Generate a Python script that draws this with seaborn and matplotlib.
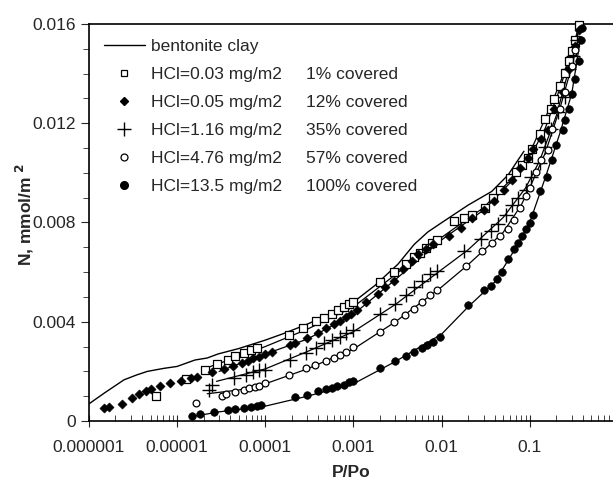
import numpy as np
import matplotlib
matplotlib.use("Agg")
import matplotlib.pyplot as plt
from matplotlib.lines import Line2D
from matplotlib.ticker import FixedLocator, NullFormatter
import seaborn as sns

# bentonite clay reference curve
clay_x = [1e-6, 1.5e-6, 2.5e-6, 3.5e-6, 4.6e-6, 7e-6, 1e-5, 1.6e-5, 2.2e-5, 2.9e-5, 5e-5, 1e-4,
          1.6e-4, 2.8e-4, 5e-4, 1e-3, 1.75e-3, 3.2e-3, 4.9e-3, 7e-3, 1e-2, 2e-2, 3.7e-2,
          5.7e-2, 7e-2, 8.6e-2]
clay_y = [0.00069, 0.00113, 0.00166, 0.00186, 0.0020, 0.00212, 0.0022, 0.00246, 0.00254, 0.0027,
          0.00292, 0.00326, 0.00352, 0.00386, 0.00425, 0.00479, 0.00546, 0.00632, 0.00712,
          0.00762, 0.00799, 0.0087, 0.00925, 0.00992, 0.0104, 0.01087]

# HCl = 0.03 mg/m2 (squares)
sq_x = [5.7e-6, 1.27e-5, 2.05e-5, 2.87e-5, 3.8e-5, 4.6e-5, 5.8e-5, 6.9e-5, 8.1e-5, 1.85e-4,
        2.7e-4, 3.8e-4, 4.6e-4, 5.7e-4, 6.7e-4, 7.8e-4, 9.0e-4, 1e-3, 2.0e-3, 2.9e-3,
        3.9e-3, 4.9e-3, 5.7e-3, 6.6e-3, 7.7e-3, 8.9e-3, 1.4e-2, 1.8e-2, 2.2e-2, 3.1e-2,
        3.8e-2, 4.6e-2, 6.0e-2, 7.0e-2, 8.1e-2, 9.5e-2, 0.107, 0.13, 0.15, 0.176,
        0.19, 0.22, 0.25, 0.28, 0.30, 0.33, 0.36]
sq_y = [0.00102, 0.0017, 0.00206, 0.00229, 0.00246, 0.00262, 0.00276, 0.00286, 0.00293, 0.00346,
        0.00373, 0.00403, 0.00417, 0.0043, 0.00446, 0.00459, 0.0047, 0.00479, 0.00559, 0.00599,
        0.00632, 0.00659, 0.00679, 0.00699, 0.00719, 0.00728, 0.00805, 0.00819, 0.00832, 0.00858,
        0.00898, 0.00932, 0.00978, 0.01005, 0.01032, 0.01058, 0.01098, 0.01158, 0.01218, 0.01258,
        0.01298, 0.01351, 0.01404, 0.01451, 0.01491, 0.01537, 0.01597]
sq_fit_x = [2e-5, 5e-5, 1e-4, 3e-4, 1e-3, 3e-3, 1e-2, 3e-2, 6e-2, 0.1, 0.15, 0.22, 0.3, 0.36]
sq_fit_y = [0.0021, 0.0026, 0.003, 0.0037, 0.0046, 0.0059, 0.0074, 0.0086, 0.0097, 0.0108,
            0.0122, 0.0136, 0.0149, 0.0159]

# HCl = 0.05 mg/m2 (diamonds)
di_x = [1.5e-6, 1.67e-6, 2.4e-6, 3.1e-6, 3.7e-6, 4.4e-6, 5.1e-6, 6.4e-6, 8.4e-6, 1.1e-5,
        1.43e-5, 1.67e-5, 2.5e-5, 3.4e-5, 4.3e-5, 5.4e-5, 6.3e-5, 7.3e-5, 8.5e-5, 1e-4,
        1.2e-4, 1.9e-4, 2.2e-4, 3.0e-4, 4.0e-4, 4.9e-4, 6.0e-4, 7.0e-4, 8.2e-4, 9.5e-4,
        1.1e-3, 1.4e-3, 1.9e-3, 2.3e-3, 2.9e-3, 3.7e-3, 4.6e-3, 5.4e-3, 6.6e-3, 8.1e-3,
        1.2e-2, 1.64e-2, 2.2e-2, 3.0e-2, 3.9e-2, 5.1e-2, 6.3e-2, 7.7e-2, 9.5e-2, 0.11,
        0.135, 0.16, 0.19, 0.24, 0.28, 0.33, 0.36]
di_y = [0.00053, 0.00055, 0.00069, 0.00093, 0.00109, 0.0012, 0.00129, 0.0014, 0.00153, 0.00162,
        0.00173, 0.00177, 0.00196, 0.00209, 0.00222, 0.00233, 0.00242, 0.00252, 0.0026, 0.0027,
        0.0028, 0.00306, 0.00313, 0.00333, 0.00353, 0.00373, 0.0039, 0.00403, 0.00419, 0.00433,
        0.00446, 0.00479, 0.00512, 0.00539, 0.00566, 0.00612, 0.00646, 0.00672, 0.00692, 0.00712,
        0.00745, 0.00779, 0.00819, 0.00852, 0.00885, 0.00932, 0.00972, 0.01018, 0.01058, 0.01098,
        0.01138, 0.01171, 0.01258, 0.01324, 0.01418, 0.01511, 0.01577]
di_fit_x = [3e-5, 1e-4, 3e-4, 1e-3, 3e-3, 1e-2, 3e-2, 6e-2, 0.1, 0.15, 0.22, 0.3, 0.37]
di_fit_y = [0.0020, 0.0027, 0.0033, 0.0043, 0.0057, 0.0073, 0.0085, 0.0096, 0.0106, 0.0118,
            0.0134, 0.0149, 0.0158]

# HCl = 1.16 mg/m2 (plus)
pl_x = [2.3e-5, 2.5e-5, 4.4e-5, 6.0e-5, 7.3e-5, 8.5e-5, 1e-4, 1.9e-4, 2.9e-4, 3.8e-4,
        4.6e-4, 5.7e-4, 7e-4, 8.2e-4, 1e-3, 2e-3, 3.0e-3, 3.9e-3, 4.9e-3, 6.0e-3,
        7.3e-3, 8.9e-3, 1.8e-2, 2.8e-2, 3.6e-2, 4.4e-2, 5.4e-2, 6.3e-2, 7.3e-2, 9e-2,
        0.104, 0.13, 0.15, 0.176, 0.21, 0.25, 0.28, 0.31, 0.34]
pl_y = [0.00126, 0.00146, 0.00173, 0.00186, 0.00196, 0.00204, 0.00206, 0.00246, 0.00273, 0.00293,
        0.00313, 0.00326, 0.00339, 0.00353, 0.00366, 0.00433, 0.00473, 0.00506, 0.00539, 0.00566,
        0.00592, 0.00606, 0.00685, 0.00732, 0.00765, 0.00792, 0.00832, 0.00872, 0.00898, 0.00932,
        0.00985, 0.01038, 0.01105, 0.01178, 0.01244, 0.01304, 0.01418, 0.01471, 0.01537]
pl_fit_x = [2.8e-5, 1e-4, 3e-4, 1e-3, 3e-3, 1e-2, 2e-2, 5e-2, 0.09, 0.13, 0.2, 0.3, 0.35]
pl_fit_y = [0.0016, 0.0021, 0.0028, 0.0036, 0.0047, 0.0061, 0.0069, 0.0082, 0.0094, 0.0105,
            0.0123, 0.0146, 0.0155]

# HCl = 4.76 mg/m2 (open circles)
oc_x = [1.63e-5, 3.2e-5, 3.6e-5, 4.6e-5, 5.7e-5, 6.6e-5, 7.7e-5, 8.5e-5, 1e-4, 1.85e-4,
        2.9e-4, 3.7e-4, 4.9e-4, 6e-4, 7e-4, 8.2e-4, 1e-3, 2e-3, 2.9e-3, 3.8e-3,
        4.9e-3, 6e-3, 7.3e-3, 8.9e-3, 1.9e-2, 2.9e-2, 3.7e-2, 4.6e-2, 5.6e-2, 6.6e-2,
        7.7e-2, 9e-2, 0.1, 0.117, 0.135, 0.16, 0.18, 0.22, 0.25, 0.3, 0.33]
oc_y = [0.00073, 0.00102, 0.00109, 0.00117, 0.00126, 0.00133, 0.00137, 0.0014, 0.00153, 0.00186,
        0.00213, 0.00226, 0.0024, 0.00253, 0.00266, 0.0028, 0.003, 0.00359, 0.00399, 0.00426,
        0.00453, 0.00479, 0.00506, 0.00528, 0.00626, 0.00685, 0.00719, 0.00745, 0.00772, 0.00812,
        0.00858, 0.00905, 0.00938, 0.01005, 0.01051, 0.01091, 0.01178, 0.01258, 0.01324, 0.0143, 0.01497]
oc_fit_x = [2.2e-5, 5e-5, 1e-4, 3e-4, 1e-3, 3e-3, 1e-2, 2e-2, 5e-2, 0.08, 0.1, 0.15, 0.22, 0.3, 0.34]
oc_fit_y = [0.0011, 0.00125, 0.0015, 0.0021, 0.0029, 0.0040, 0.0054, 0.0063, 0.0076, 0.0087,
            0.0094, 0.0108, 0.0126, 0.0143, 0.0151]

# HCl = 13.5 mg/m2 (filled circles)
fc_x = [1.46e-5, 1.84e-5, 2.6e-5, 3.8e-5, 4.6e-5, 5.7e-5, 6.9e-5, 8e-5, 9e-5, 2.2e-4,
        3.0e-4, 4e-4, 4.9e-4, 5.7e-4, 6.6e-4, 7.8e-4, 9e-4, 1e-3, 2e-3, 3e-3,
        3.9e-3, 4.9e-3, 6e-3, 6.9e-3, 8.1e-3, 9.5e-3, 2e-2, 3e-2, 3.6e-2, 4.2e-2,
        4.8e-2, 5.7e-2, 6.6e-2, 7.3e-2, 8.1e-2, 9e-2, 0.1, 0.11, 0.13, 0.155,
        0.18, 0.2, 0.24, 0.25, 0.28, 0.3, 0.33, 0.36, 0.38, 0.39]
fc_y = [0.0002, 0.00027, 0.00036, 0.00044, 0.00049, 0.00053, 0.00057, 0.00061, 0.00064, 0.00097,
        0.00106, 0.0012, 0.00129, 0.00133, 0.0014, 0.00146, 0.00156, 0.0016, 0.00213, 0.0024,
        0.00262, 0.0028, 0.00293, 0.00306, 0.00319, 0.00339, 0.00466, 0.00526, 0.00546, 0.00572,
        0.00599, 0.00652, 0.00692, 0.00719, 0.00745, 0.00772, 0.00799, 0.00832, 0.00925, 0.00985,
        0.01051, 0.01111, 0.01171, 0.01211, 0.01258, 0.01318, 0.01378, 0.01451, 0.01537, 0.01584]
fc_fit_x = [1.6e-5, 3e-5, 1e-4, 3e-4, 1e-3, 3e-3, 1e-2, 2e-2, 4e-2, 7e-2, 0.1, 0.15, 0.22, 0.3, 0.38]
fc_fit_y = [0.0002, 0.00037, 0.0006, 0.0010, 0.0015, 0.0024, 0.0035, 0.0046, 0.0056, 0.0070,
            0.0080, 0.0098, 0.0116, 0.0132, 0.0155]

labels = ["HCl=0.03 mg/m2", "HCl=0.05 mg/m2", "HCl=1.16 mg/m2", "HCl=4.76 mg/m2", "HCl=13.5 mg/m2"]
covered = ["1% covered", "12% covered", "35% covered", "57% covered", "100% covered"]

sns.set_style("ticks")
plt.rcParams["font.family"] = ["Liberation Sans", "DejaVu Sans"]

fig = plt.figure(figsize=(6.13, 4.79), dpi=100)
ax = fig.add_axes([0.145, 0.121, 0.855, 0.829])

# fit lines
sns.lineplot(x=clay_x, y=clay_y, color="k", lw=1, sort=False, estimator=None, ax=ax)
for fx, fy in [(sq_fit_x, sq_fit_y), (di_fit_x, di_fit_y), (pl_fit_x, pl_fit_y),
               (oc_fit_x, oc_fit_y), (fc_fit_x, fc_fit_y)]:
    sns.lineplot(x=fx, y=fy, color="k", lw=0.9, sort=False, estimator=None, ax=ax)

# data points
sns.scatterplot(x=sq_x, y=sq_y, marker="s", s=32, facecolor="white", edgecolor="k", linewidth=0.9, ax=ax, zorder=3, clip_on=False)
sns.scatterplot(x=di_x, y=di_y, marker="D", s=22, color="k", edgecolor="k", ax=ax, zorder=3, clip_on=False)
sns.scatterplot(x=pl_x, y=pl_y, marker="+", s=110, color="k", linewidth=1.0, ax=ax, zorder=3, clip_on=False)
sns.scatterplot(x=oc_x, y=oc_y, marker="o", s=24, facecolor="white", edgecolor="k", linewidth=0.9, ax=ax, zorder=3, clip_on=False)
sns.scatterplot(x=fc_x, y=fc_y, marker="o", s=30, color="k", edgecolor="k", ax=ax, zorder=3, clip_on=False)

ax.set_xscale("log")
ax.set_xlim(1e-6, 0.88)
ax.set_ylim(0, 0.016)

ax.set_xticks([1e-6, 1e-5, 1e-4, 1e-3, 1e-2, 1e-1])
ax.set_xticklabels(["0.000001", "0.00001", "0.0001", "0.001", "0.01", "0.1"])
ax.xaxis.set_minor_locator(FixedLocator([m * 10.0 ** e for e in range(-6, 0) for m in range(2, 10)]))
ax.xaxis.set_minor_formatter(NullFormatter())
ax.set_yticks([0, 0.004, 0.008, 0.012, 0.016])
ax.set_yticklabels(["0", "0.004", "0.008", "0.012", "0.016"])
ax.yaxis.set_minor_locator(FixedLocator([0.001 * i for i in range(17)]))

ax.tick_params(axis="x", which="major", direction="inout", length=8, width=0.8, labelsize=12.5, pad=10)
ax.tick_params(axis="x", which="minor", direction="in", length=4, width=0.6)
ax.tick_params(axis="y", which="major", direction="out", length=6, width=0.8, labelsize=12.5)
ax.tick_params(axis="y", which="minor", direction="out", length=4, width=0.6)

for side in ["left", "bottom", "top"]:
    ax.spines[side].set_linewidth(1.2)
    ax.spines[side].set_color("k")
ax.spines["right"].set_visible(False)

ax.set_xlabel("P/Po", fontsize=12.5, fontweight="bold", labelpad=7)
ax.set_ylabel("N, mmol/m $^{\\mathbf{2}}$", fontsize=12.5, fontweight="bold")
ax.yaxis.set_label_coords(-0.1, 0.52)

handles = [
    Line2D([], [], color="k", lw=1),
    Line2D([], [], ls="", marker="s", ms=5, mfc="white", mec="k", mew=0.9),
    Line2D([], [], ls="", marker="D", ms=4.5, mfc="k", mec="k"),
    Line2D([], [], ls="", marker="+", ms=10, mec="k", mew=1.0),
    Line2D([], [], ls="", marker="o", ms=5, mfc="white", mec="k", mew=0.9),
    Line2D([], [], ls="", marker="o", ms=5.5, mfc="k", mec="k"),
]
leg = ax.legend(handles, ["bentonite clay"] + labels, loc="upper left", bbox_to_anchor=(0.0, 1.0),
                frameon=False, fontsize=12.5, handlelength=2.4, handletextpad=0.3,
                labelspacing=0.74, borderaxespad=0.45)

# second legend column, aligned with the legend rows
fig.canvas.draw()
inv = ax.transAxes.inverted()
for txt, ltxt in zip(covered, leg.get_texts()[1:]):
    bb = ltxt.get_window_extent()
    yy = inv.transform((0, (bb.y0 + bb.y1) / 2))[1]
    ax.text(0.414, yy, txt, transform=ax.transAxes, fontsize=12.5, va="center", ha="left")

fig.savefig("out.png", dpi=100)
